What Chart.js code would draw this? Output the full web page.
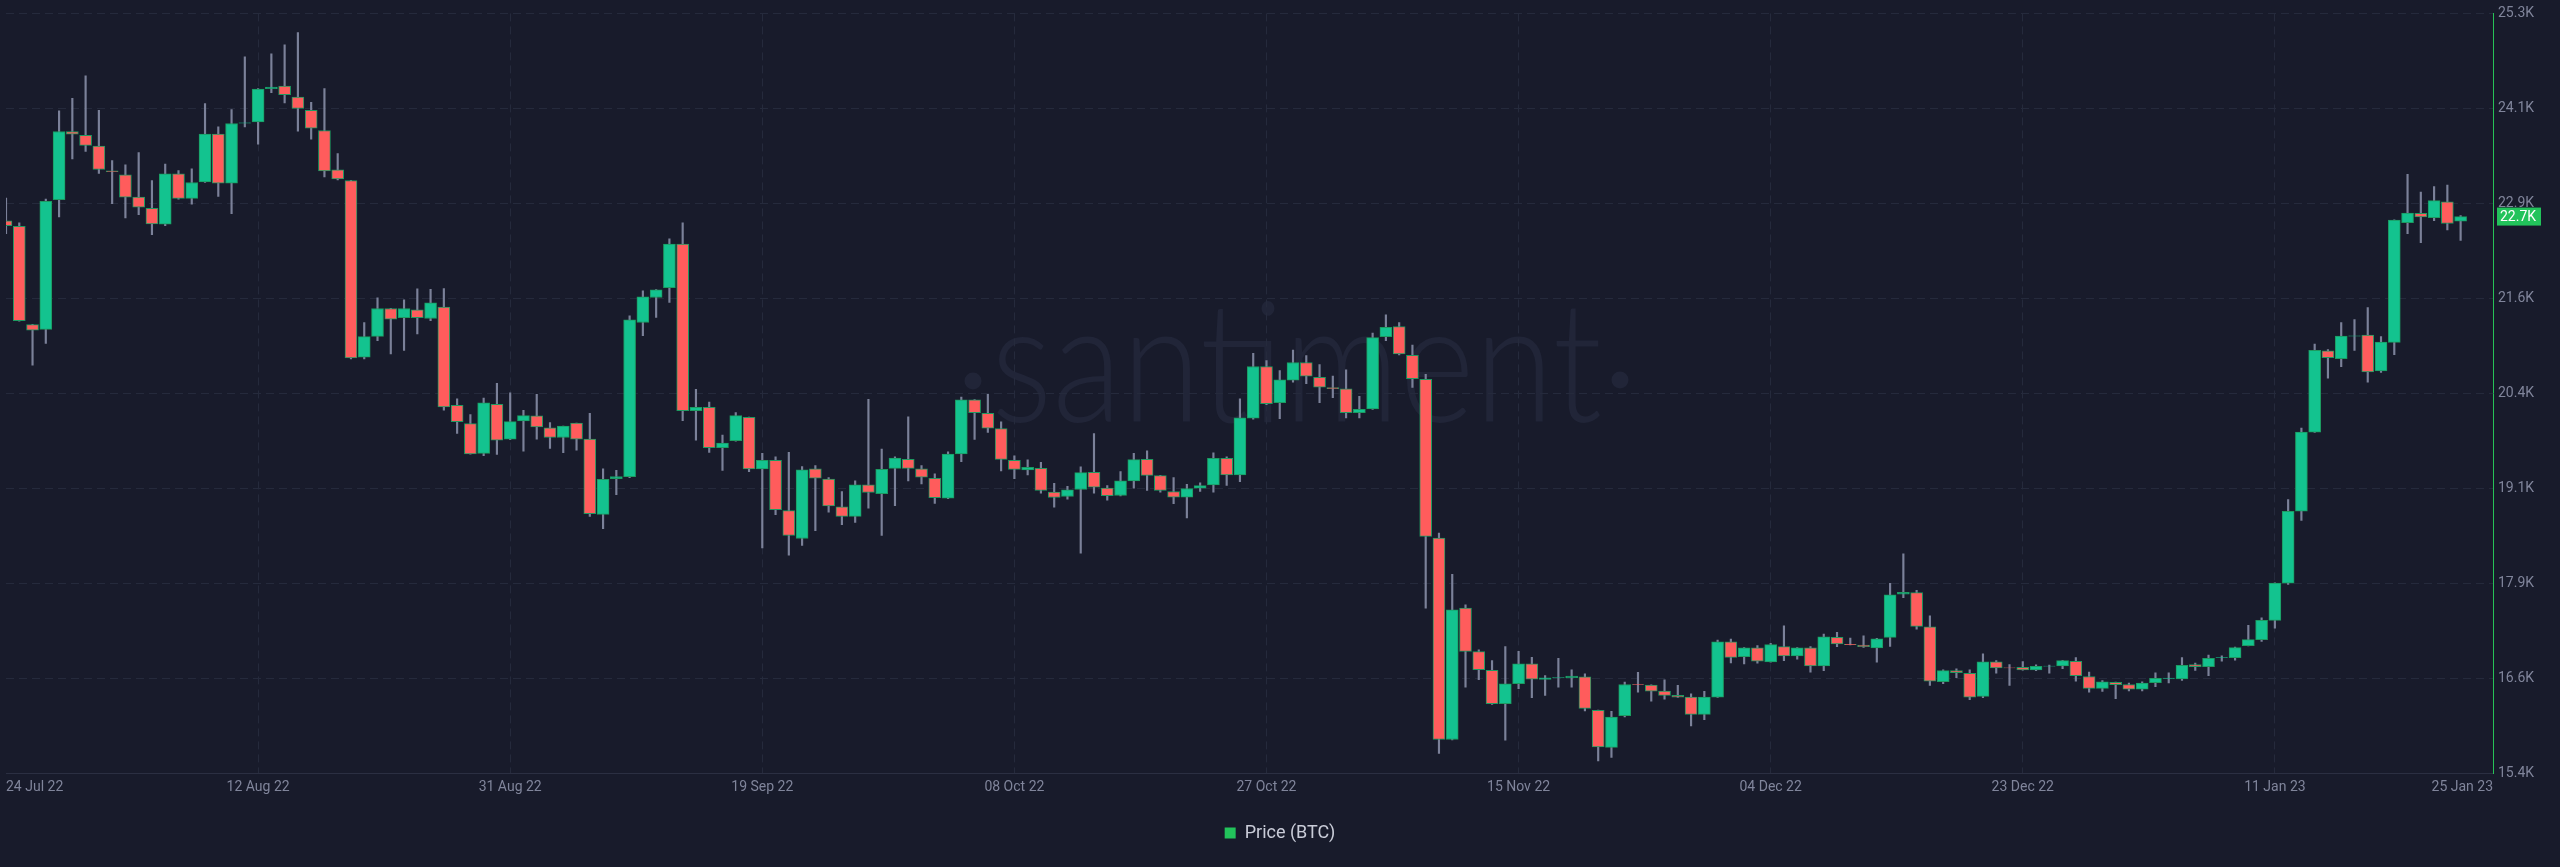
<!DOCTYPE html>
<html>
<head>
<meta charset="utf-8">
<script src="https://cdn.jsdelivr.net/npm/chart.js@4.4.1/dist/chart.umd.min.js"></script>
<style>
    html, body { margin: 0; padding: 0; background: #181b2b; }
    #wrap { width: 2560px; height: 867px; position: relative; }
</style>
</head>
<body>
<div id="wrap"><canvas id="btcChart"></canvas></div>
<script>
// daily BTC candles, day 0 = 24 Jul 22 ... day 185 = 25 Jan 23
const opens = [
    22595, 22526, 21243, 21182, 22871, 23761, 23710, 23571, 23249, 23195,
    22906, 22759, 22552, 23208, 22889, 23104, 23726, 23087, 23870, 23887,
    24319, 24354, 24211, 24037, 23774, 23260, 23122, 20819, 21091, 21454,
    21333, 21437, 21324, 21471, 20193, 19954, 19565, 20206, 19752, 19989,
    20054, 19898, 19773, 19959, 19752, 18771, 19237, 19263, 21272, 21597,
    21726, 22293, 20123, 20167, 19639, 19730, 20037, 19363, 19475, 18819,
    18456, 19363, 19231, 18870, 18745, 19156, 19039, 19371, 19487, 19363,
    19241, 18982, 19557, 20265, 20089, 19889, 19475, 19350, 19371, 19060,
    19004, 19095, 19319, 19112, 19017, 19207, 19487, 19276, 19069, 18995,
    19112, 19156, 19500, 19285, 20024, 20698, 20226, 20521, 20750, 20556,
    20423, 20408, 20097, 20145, 21087, 21217, 20845, 20530, 18463, 15837,
    17548, 16982, 16739, 16304, 16563, 16822, 16619, 16638, 16641, 16654,
    16217, 15733, 16148, 16554, 16545, 16467, 16411, 16389, 16165, 16389,
    17111, 16917, 17030, 16848, 17047, 16926, 17030, 16796, 17167, 17078,
    17068, 17030, 17167, 17730, 17750, 17306, 16589, 16735, 16700, 16398,
    16848, 16772, 16778, 16745, 16792, 16794, 16856, 16658, 16502, 16582,
    16554, 16493, 16577, 16632, 16625, 16813, 16785, 16902, 16904, 17058,
    17139, 17389, 17874, 18811, 19843, 20903, 20799, 21094, 21107, 20640,
    21012, 22571, 22694, 22637, 22845, 22591
];
const highs = [
    22893, 22569, 21247, 22880, 24030, 24193, 24487, 24037, 23382, 23325,
    23485, 23122, 23337, 23252, 23273, 24124, 23822, 24047, 24734, 24319,
    24772, 24889, 25049, 24141, 24319, 23472, 23125, 21272, 21593, 21456,
    21567, 21709, 21704, 21713, 20278, 20071, 20287, 20478, 20356, 20128,
    20335, 19967, 19922, 19961, 20089, 19363, 19345, 21359, 21683, 21700,
    22361, 22569, 20400, 20235, 19804, 20097, 20040, 19565, 19522, 19578,
    19393, 19406, 19250, 19069, 19207, 20270, 19622, 19522, 20041, 19406,
    19298, 19587, 20300, 20268, 20335, 19976, 19535, 19480, 19449, 19176,
    19137, 19389, 19825, 19147, 19328, 19565, 19600, 19278, 19250, 19163,
    19182, 19574, 19522, 20278, 20871, 20776, 20646, 20913, 20841, 20724,
    20572, 20654, 20309, 21134, 21372, 21272, 20978, 20595, 18528, 17989,
    17591, 17004, 16865, 17047, 16986, 16908, 16671, 16895, 16745, 16693,
    16220, 16204, 16584, 16713, 16548, 16615, 16541, 16433, 16463, 17133,
    17146, 17035, 17060, 17089, 17319, 17035, 17047, 17211, 17232, 17159,
    17189, 17155, 17872, 18256, 17781, 17448, 16745, 16757, 16745, 16952,
    16865, 16813, 16852, 16809, 16808, 16870, 16904, 16715, 16606, 16585,
    16573, 16588, 16704, 16704, 16904, 16832, 16936, 16926, 17040, 17326,
    17421, 17878, 18963, 19895, 20989, 20917, 21271, 21309, 21465, 21087,
    22610, 23203, 22972, 23043, 23061, 22666
];
const lows = [
    22430, 21290, 20715, 21000, 22647, 23402, 23502, 23213, 22819, 22634,
    22676, 22417, 22534, 22880, 22815, 23096, 22915, 22689, 23822, 23597,
    24267, 24133, 23765, 23662, 23169, 23130, 20797, 20797, 21035, 20862,
    20906, 21121, 21295, 20128, 19825, 19555, 19535, 19552, 19745, 19596,
    19752, 19630, 19574, 19609, 18745, 18585, 19026, 19250, 21100, 21337,
    21532, 19993, 19739, 19578, 19345, 19725, 19328, 18334, 18767, 18239,
    18365, 18559, 18800, 18637, 18667, 18852, 18495, 18883, 19207, 19169,
    18913, 18975, 19458, 19747, 19838, 19337, 19237, 19285, 19047, 18865,
    18969, 18265, 19047, 18956, 19010, 19112, 19082, 19060, 18909, 18723,
    19069, 19060, 19147, 19198, 20011, 20200, 20019, 20495, 20473, 20226,
    20291, 20028, 20028, 20140, 21035, 20849, 20426, 17548, 15656, 15830,
    16519, 16615, 16295, 15828, 16498, 16382, 16411, 16519, 16519, 16208,
    15556, 15604, 16130, 16454, 16337, 16363, 16385, 16013, 16096, 16385,
    16835, 16822, 16830, 16845, 16865, 16882, 16713, 16735, 17047, 17068,
    17037, 16843, 17050, 17686, 17276, 16541, 16563, 16641, 16356, 16382,
    16700, 16541, 16740, 16735, 16700, 16761, 16597, 16455, 16463, 16370,
    16470, 16470, 16525, 16573, 16606, 16738, 16667, 16856, 16870, 17055,
    17115, 17289, 17859, 18693, 19838, 20545, 20696, 20908, 20493, 20620,
    20851, 22430, 22312, 22600, 22477, 22341
];
const closes = [
    22534, 21295, 21173, 22850, 23761, 23726, 23580, 23265, 23236, 22906,
    22776, 22556, 23208, 22889, 23096, 23726, 23087, 23865, 23875, 24315,
    24341, 24241, 24060, 23804, 23247, 23143, 20810, 21087, 21454, 21315,
    21454, 21333, 21528, 20171, 19980, 19557, 20226, 19739, 19980, 20058,
    19911, 19773, 19920, 19752, 18780, 19228, 19263, 21307, 21606, 21696,
    22293, 20123, 20167, 19639, 19700, 20058, 19363, 19475, 18832, 18495,
    19350, 19241, 18881, 18745, 19156, 19056, 19358, 19506, 19371, 19254,
    18987, 19557, 20265, 20097, 19895, 19487, 19358, 19384, 19082, 18991,
    19091, 19315, 19125, 19013, 19207, 19484, 19280, 19082, 18995, 19108,
    19147, 19500, 19285, 20028, 20698, 20213, 20525, 20750, 20572, 20430,
    20410, 20097, 20141, 21074, 21208, 20862, 20538, 18485, 15837, 17526,
    16986, 16748, 16304, 16563, 16822, 16623, 16641, 16645, 16662, 16243,
    15741, 16130, 16554, 16550, 16467, 16411, 16389, 16165, 16389, 17111,
    16908, 17030, 16856, 17073, 16926, 17030, 16796, 17176, 17082, 17074,
    17047, 17150, 17721, 17756, 17310, 16597, 16735, 16706, 16389, 16848,
    16770, 16768, 16745, 16791, 16795, 16865, 16667, 16502, 16588, 16550,
    16493, 16573, 16634, 16636, 16804, 16785, 16894, 16905, 17035, 17139,
    17389, 17874, 18811, 19843, 20908, 20814, 21096, 21098, 20626, 21017,
    22605, 22698, 22647, 22859, 22562, 22652
];

const xTickDays = [0, 19, 38, 57, 76, 95, 114, 133, 152, 171, 187.44];
const xTickLabels = ['24 Jul 22', '12 Aug 22', '31 Aug 22', '19 Sep 22', '08 Oct 22', '27 Oct 22',
    '15 Nov 22', '04 Dec 22', '23 Dec 22', '11 Jan 23', '25 Jan 23'];
const yTickLabels = ['15.4K', '16.6K', '17.9K', '19.1K', '20.4K', '21.6K', '22.9K', '24.1K', '25.3K'];

const seriesName = 'Price (BTC)';
const upColor = '#13c38f';
const downColor = '#ff5c5c';
const bg = '#181b2b';
const gridColor = '#252a3c';
const tickColor = '#80859b';

const wickData = lows.map((l, i) => ({ x: i, y: [l, highs[i]] }));
const bodyData = opens.map((o, i) => ({ x: i, y: [o, closes[i]] }));

// background + faint ".santiment." watermark behind everything
const watermark = {
    id: 'watermark',
    beforeDraw(chart) {
        const ctx = chart.ctx;
        ctx.save();
        ctx.fillStyle = bg;
        ctx.fillRect(0, 0, chart.width, chart.height);
        ctx.fillStyle = '#212538';
        ctx.font = '300 168px Lato';
        ctx.textBaseline = 'alphabetic';
        ctx.textAlign = 'left';
        ctx.fillText('santiment', 991, 422, 611);
        ctx.beginPath();
        ctx.arc(973, 381, 8.5, 0, Math.PI * 2);
        ctx.arc(1620, 380, 8.5, 0, Math.PI * 2);
        ctx.fill();
        ctx.restore();
    }
};

// last price tag on the right axis
const lastPriceTag = {
    id: 'lastPriceTag',
    afterDraw(chart) {
        const ctx = chart.ctx;
        const last = closes[closes.length - 1];
        const y = chart.scales.y.getPixelForValue(last);
        const x = chart.chartArea.right + 4;
        ctx.save();
        ctx.fillStyle = '#22c35b';
        ctx.fillRect(x, y - 9, 44, 18);
        ctx.fillStyle = '#ffffff';
        ctx.font = '14px Roboto';
        ctx.textBaseline = 'middle';
        ctx.textAlign = 'left';
        ctx.fillText((last / 1000).toFixed(1) + 'K', x + 3, y + 1);
        ctx.restore();
    }
};

const ctx = document.getElementById('btcChart').getContext('2d');
window.btcChart = new Chart(ctx, {
    type: 'bar',
    data: {
        datasets: [{
            label: seriesName,
            data: bodyData,
            order: 0,
            grouped: false,
            barThickness: 12,
            backgroundColor: c => (closes[c.dataIndex] >= opens[c.dataIndex] ? upColor : downColor),
            borderColor: '#1d9a60',
            borderWidth: 1,
            borderSkipped: false,
            clip: 0
        }, {
            label: 'wick',
            data: wickData,
            order: 1,
            grouped: false,
            barThickness: 1.5,
            backgroundColor: '#7b8199',
            borderWidth: 0,
            clip: 0
        }]
    },
    options: {
        responsive: true,
        maintainAspectRatio: false,
        animation: false,
        devicePixelRatio: 1,
        layout: {
            padding: { top: 9, right: 0, bottom: 15, left: 0 }
        },
        plugins: {
            tooltip: { enabled: false },
            legend: {
                display: true,
                position: 'bottom',
                labels: {
                    color: '#c9ccd8',
                    font: { family: 'Roboto', size: 18 },
                    boxWidth: 11,
                    boxHeight: 11,
                    padding: 10,
                    generateLabels: () => [{
                        text: seriesName,
                        fillStyle: '#22c35b',
                        strokeStyle: '#22c35b',
                        lineWidth: 0,
                        fontColor: '#c9ccd8',
                        datasetIndex: 0,
                        hidden: false
                    }]
                }
            }
        },
        scales: {
            x: {
                type: 'linear',
                offset: false,
                min: 0,
                max: 187.44,
                afterBuildTicks: scale => {
                    scale.ticks = xTickDays.map(v => ({ value: v }));
                },
                afterFit: scale => { scale.height = 41; },
                ticks: {
                    autoSkip: false,
                    maxRotation: 0,
                    align: 'inner',
                    padding: 6,
                    color: tickColor,
                    font: { family: 'Roboto', size: 14 },
                    callback: (value, index) => xTickLabels[index]
                },
                grid: {
                    offset: false,
                    drawTicks: false,
                    color: c => (c.index === 0 || c.index === xTickDays.length - 1 ? 'rgba(0,0,0,0)' : gridColor)
                },
                border: { display: true, color: '#2b2f42', dash: [8, 5] }
            },
            y: {
                position: 'right',
                min: 15400,
                max: 25300,
                afterFit: scale => { scale.width = 67; },
                ticks: {
                    stepSize: 1237.5,
                    padding: 5,
                    color: tickColor,
                    font: { family: 'Roboto', size: 14 },
                    callback: (value, index) => yTickLabels[index]
                },
                grid: {
                    drawTicks: false,
                    color: c => (c.index === 0 ? 'rgba(0,0,0,0)' : gridColor)
                },
                border: { display: true, color: '#27c257', dash: [8, 5] }
            }
        }
    },
    plugins: [watermark, lastPriceTag]
});
</script>
</body>
</html>
